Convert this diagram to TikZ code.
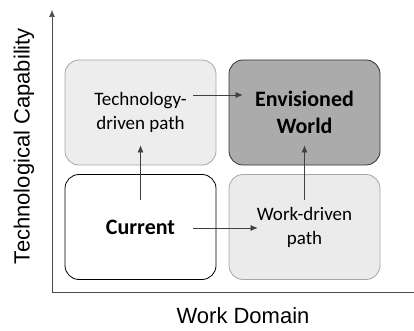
\documentclass[tikz,border=0pt]{standalone}
\usepackage{fontspec}
\setmainfont{Carlito}
\newfontfamily\arialf{Liberation Sans}
\usetikzlibrary{arrows.meta,calc}
\begin{document}
\begin{tikzpicture}[x=1pt,y=-1pt,
  box/.style={rounded corners=14pt, minimum width=151pt, minimum height=105pt, inner sep=0pt, align=center, line width=0.8pt},
  lbl/.style={font=\fontsize{19}{24}\selectfont},
  blbl/.style={font=\bfseries\fontsize{22}{27}\selectfont},
  arr/.style={draw=black!75, line width=0.6pt, -{Latex[length=7pt,width=6pt]}},
  axis/.style={draw=black!70, line width=0.7pt},
  axlbl/.style={font=\arialf\fontsize{22}{26}\selectfont}
]
\useasboundingbox (0,0) rectangle (414,331);
\node[box, lbl, draw=black!35, fill=black!7] (tech) at (140.5,112.5) {Technology-\\driven path};
\node[box, blbl, draw=black!80, fill=black!33] (env) at (304.5,112.5) {Envisioned\\World};
\node[box, blbl, draw=black, fill=white] (cur) at (140.5,227) {Current};
\node[box, lbl, draw=black!35, fill=black!8] (work) at (304.5,227) {Work-driven\\path};

\coordinate (O) at (52,292);
\coordinate (ytop) at (52,10);
\coordinate (xend) at (414,292);
\draw[axis, -{Latex[length=7pt,width=6pt]}] (O) -- (ytop);
\draw[axis] (O) -- (xend);

\node[axlbl, rotate=90] (ylab) at (24,146) {Technological Capability};
\node[axlbl] (xlab) at (243,316) {Work Domain};

\coordinate (t1) at ($(tech.east)+(-23,-17.5)$);
\coordinate (e1) at ($(env.west)+(14,-17.5)$);
\draw[arr] (t1) -- (e1);

\coordinate (c1) at ($(cur.center)+(0,-27)$);
\coordinate (t2) at ($(tech.south)+(0,-20)$);
\draw[arr] (c1) -- (t2);

\coordinate (c2) at ($(cur.east)+(-23,1)$);
\coordinate (w1) at ($(work.west)+(29,1)$);
\draw[arr] (c2) -- (w1);

\coordinate (w2) at ($(work.center)+(0,-27)$);
\coordinate (e2) at ($(env.south)+(0,-20)$);
\draw[arr] (w2) -- (e2);
\end{tikzpicture}
\end{document}
